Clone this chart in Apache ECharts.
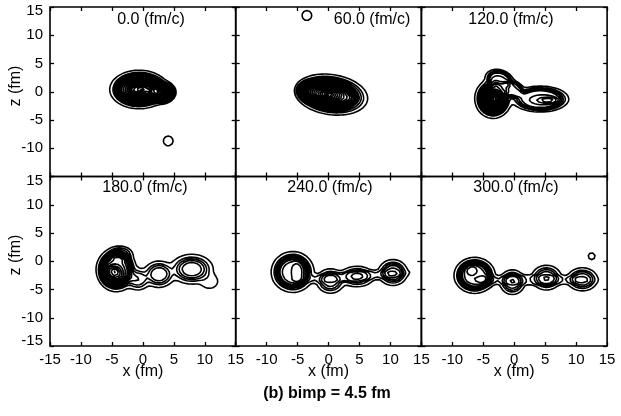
<!DOCTYPE html>
<html>
<head>
<meta charset="utf-8">
<script src="https://cdn.jsdelivr.net/npm/echarts@6/dist/echarts.min.js"></script>
<style>
  html, body { margin: 0; padding: 0; background: #fff; }
  #main { width: 621px; height: 416px; }
</style>
</head>
<body>
<div id="main"></div>
<script>
// --- data -------------------------------------------------------------
const panelTitles = ["0.0 (fm/c)", "60.0 (fm/c)", "120.0 (fm/c)", "180.0 (fm/c)", "240.0 (fm/c)", "300.0 (fm/c)"];
const axisTicks = [-15, -10, -5, 0, 5, 10, 15];
const contourLevels = [0.05, 0.15, 0.25, 0.35, 0.45, 0.55, 0.65, 0.75, 0.85, 0.95,
  1.05, 1.15, 1.25, 1.35, 1.45, 1.55, 1.65, 1.75, 1.85, 1.95, 2.05, 2.15];

// density blobs: [x, z, amplitude, rx, rz, diffuseness, angle]
// diffuseness 0 marks a cone-shaped core instead of a soft-edged blob
const blobs0 = [
  [-0.6, 0.4, 0.5, 3.9, 2.8, 0.1, 0],
  [3.0, -0.1, 0.45, 1.95, 1.7, 0.1, 0],
  [-0.3, 0.4, 1.3, 4.4, 2.9, 0, 0],
  [3.0, -0.1, 0.8, 2.2, 1.8, 0, 0],
  [-1.6, 0.3, 0.12, 0.6, 0.5, 0.3, 0],
  [2.7, 0.2, 0.15, 0.7, 0.5, 0.3, 0],
  [4.1, -8.7, 0.08, 0.85, 0.95, 0.15, 0]
];
const blobs60 = [
  [0.4, -0.5, 0.5, 4.9, 2.9, 0.1, -10],
  [-0.3, -0.4, 1.6, 5.2, 2.9, 0, -10],
  [3.7, -1.2, 0.15, 0.9, 0.6, 0.3, 0],
  [-3.5, 13.5, 0.08, 0.85, 0.95, 0.15, 0]
];
const blobs120 = [
  [-3.4, -1.2, 0.7, 2.2, 2.6, 0.14, 0],
  [-3.3, -1.3, 0.8, 2.4, 2.8, 0, 0],
  [-2.4, 2.2, 0.45, 1.8, 1.3, 0.14, -20],
  [-0.3, 0.4, 0.45, 1.6, 1.2, 0.14, -30],
  [4.2, -1.3, 0.55, 3.6, 1.8, 0.12, 0],
  [-3.3, -1.3, 0.2, 0.9, 0.8, 0.3, 0],
  [5.4, -1.5, 0.25, 1.6, 0.5, 0.25, 0]
];
const blobs180 = [
  [-4.3, -1.5, 0.65, 2.5, 3.0, 0.12, 0],
  [-4.5, -1.8, 0.5, 2.6, 3.0, 0, -20],
  [-3.6, 1.2, 0.2, 1.6, 1.2, 0.15, 0],
  [-4.6, -2.1, 0.25, 1.4, 0.9, 0.3, -30],
  [-0.8, -3.2, 0.35, 1.3, 1.3, 0.25, 0],
  [2.6, -2.3, 0.45, 1.7, 1.6, 0.22, 0],
  [7.9, -1.4, 0.55, 2.3, 1.75, 0.22, 0],
  [10.8, -3.6, 0.08, 1.4, 1.3, 0.2, 0]
];
const blobs240 = [
  [-5.8, -1.9, 0.72, 2.5, 2.6, 0.15, 0],
  [-5.0, -1.9, 0.12, 0.8, 1.9, 0.25, 0],
  [0.3, -3.5, 0.42, 1.55, 1.5, 0.22, 0],
  [4.6, -2.7, 0.36, 1.95, 1.3, 0.22, 0],
  [10.4, -2.0, 0.5, 1.6, 1.55, 0.22, 0],
  [3.5, -2.7, 0.12, 8.5, 0.8, 0.12, 4]
];
const blobs300 = [
  [-6.4, -2.5, 0.72, 2.4, 2.3, 0.15, 0],
  [-7.0, -1.4, 0.12, 0.9, 0.9, 0.25, 0],
  [-4.5, -3.4, 0.12, 1.2, 0.9, 0.2, 0],
  [-0.3, -3.7, 0.45, 1.4, 1.5, 0.22, 0],
  [5.2, -2.9, 0.45, 1.65, 1.5, 0.22, 0],
  [11.0, -3.2, 0.45, 1.7, 1.4, 0.22, 0],
  [3.0, -3.3, 0.12, 8.5, 0.8, 0.12, 0],
  [12.5, 0.9, 0.08, 0.6, 0.65, 0.15, 0]
];
const panelBlobs = [blobs0, blobs60, blobs120, blobs180, blobs240, blobs300];

// --- contour extraction ------------------------------------------------
const step = 0.1;
const n = Math.round(30 / step) + 1;
const coord = [];
for (let i = 0; i < n; i++) coord.push(-15 + i * step);

function buildField(blobs) {
  const prepared = blobs.map(b => {
    const a = b[6] * Math.PI / 180;
    return { x: b[0], z: b[1], amp: b[2], rx: b[3], rz: b[4], d: b[5], c: Math.cos(a), s: Math.sin(a) };
  });
  const f = new Float64Array(n * n);
  for (let j = 0; j < n; j++) {
    for (let i = 0; i < n; i++) {
      let sum = 0;
      for (const b of prepared) {
        const dx = coord[i] - b.x, dz = coord[j] - b.z;
        const u = dx * b.c + dz * b.s, v = -dx * b.s + dz * b.c;
        const r = Math.sqrt((u / b.rx) ** 2 + (v / b.rz) ** 2);
        if (b.d === 0) sum += r < 1 ? b.amp * (1 - r) : 0;
        else sum += b.amp / (1 + Math.exp((r - 1) / b.d));
      }
      f[j * n + i] = sum;
    }
  }
  return f;
}

const SEGS = {
  1: [[3, 0]], 2: [[0, 1]], 3: [[3, 1]], 4: [[1, 2]], 6: [[0, 2]], 7: [[3, 2]],
  8: [[2, 3]], 9: [[0, 2]], 11: [[1, 2]], 12: [[3, 1]], 13: [[0, 1]], 14: [[3, 0]]
};

function traceLevel(f, level) {
  const pos = new Map();
  const adj = new Map();
  const link = (a, b) => {
    if (!adj.has(a)) adj.set(a, []);
    if (!adj.has(b)) adj.set(b, []);
    adj.get(a).push(b);
    adj.get(b).push(a);
  };
  const edgePt = (id, i0, j0, i1, j1) => {
    if (pos.has(id)) return;
    const va = f[j0 * n + i0], vb = f[j1 * n + i1];
    const t = (level - va) / (vb - va);
    pos.set(id, [coord[i0] + t * (coord[i1] - coord[i0]), coord[j0] + t * (coord[j1] - coord[j0])]);
  };
  for (let j = 0; j < n - 1; j++) {
    for (let i = 0; i < n - 1; i++) {
      const v0 = f[j * n + i], v1 = f[j * n + i + 1], v2 = f[(j + 1) * n + i + 1], v3 = f[(j + 1) * n + i];
      const code = (v0 > level ? 1 : 0) | (v1 > level ? 2 : 0) | (v2 > level ? 4 : 0) | (v3 > level ? 8 : 0);
      if (code === 0 || code === 15) continue;
      const ids = [2 * (j * n + i), 2 * (j * n + i + 1) + 1, 2 * ((j + 1) * n + i), 2 * (j * n + i) + 1];
      const ends = [[i, j, i + 1, j], [i + 1, j, i + 1, j + 1], [i, j + 1, i + 1, j + 1], [i, j, i, j + 1]];
      let segs = SEGS[code];
      if (code === 5 || code === 10) {
        const centre = (v0 + v1 + v2 + v3) / 4 > level;
        const a = [[0, 1], [2, 3]], b = [[3, 0], [1, 2]];
        segs = code === 5 ? (centre ? a : b) : (centre ? b : a);
      }
      for (const [p, q] of segs) {
        edgePt(ids[p], ...ends[p]);
        edgePt(ids[q], ...ends[q]);
        link(ids[p], ids[q]);
      }
    }
  }
  const paths = [];
  const seen = new Set();
  for (const start of adj.keys()) {
    if (seen.has(start)) continue;
    const path = [pos.get(start)];
    seen.add(start);
    let prev = -1, cur = start;
    for (;;) {
      let next = -1;
      for (const k of adj.get(cur)) if (k !== prev && !seen.has(k)) { next = k; break; }
      if (next < 0) break;
      seen.add(next);
      path.push(pos.get(next));
      prev = cur;
      cur = next;
    }
    if (adj.get(cur).includes(start)) path.push(pos.get(start));
    paths.push(path);
  }
  return paths;
}

function contourData(blobs) {
  const f = buildField(blobs);
  const data = [];
  for (const lv of contourLevels) {
    for (const path of traceLevel(f, lv)) {
      for (const p of path) data.push(p);
      data.push(['-', '-']);
    }
  }
  return data;
}

// --- chart ------------------------------------------------------------
const FONT = "'Liberation Sans', Arial, Helvetica, sans-serif";
const chart = echarts.init(document.getElementById('main'), null, { renderer: 'canvas' });

const panelW = 185.7, panelH = 169.5, originX = 50, originY = 7;
const grids = [], xAxes = [], yAxes = [], series = [], texts = [];

for (let p = 0; p < 6; p++) {
  const c = p % 3, r = Math.floor(p / 3);
  const left = originX + c * panelW, top = originY + r * panelH;
  grids.push({
    left: left, top: top, width: panelW, height: panelH,
    show: true, borderColor: '#000', borderWidth: 1.6, backgroundColor: 'transparent'
  });
  const tick = { show: true, inside: true, length: 4, lineStyle: { color: '#000', width: 1.3 } };
  const base = {
    gridIndex: p, type: 'value', min: -15, max: 15, interval: 5,
    axisLine: { show: false, onZero: false }, axisTick: tick, splitLine: { show: false }
  };
  xAxes.push(Object.assign({}, base, {
    position: 'bottom',
    axisLabel: {
      show: r === 1, margin: 6, color: '#000', fontFamily: FONT, fontSize: 15,
      formatter: v => (c > 0 && v === -15) ? '' : String(v)
    }
  }));
  xAxes.push(Object.assign({}, base, { position: 'top', axisLabel: { show: false } }));
  yAxes.push(Object.assign({}, base, {
    position: 'left',
    axisLabel: {
      show: c === 0, margin: 7, color: '#000', fontFamily: FONT, fontSize: 15,
      formatter: v => {
        if (v === 15) return '{t|15}';
        if (v === -15) return r === 0 ? '' : '{b|-15}';
        return String(v);
      },
      rich: {
        t: { padding: [8, 0, 0, 0], color: '#000', fontFamily: FONT, fontSize: 15 },
        b: { padding: [0, 0, 10, 0], color: '#000', fontFamily: FONT, fontSize: 15 }
      }
    }
  }));
  yAxes.push(Object.assign({}, base, { position: 'right', axisLabel: { show: false } }));

  series.push({
    type: 'line', xAxisIndex: 2 * p, yAxisIndex: 2 * p,
    data: contourData(panelBlobs[p]),
    showSymbol: false, symbol: 'none', connectNulls: false, silent: true,
    animation: false, clip: true,
    lineStyle: { color: '#000', width: 1.6, cap: 'round', join: 'round' },
    emphasis: { disabled: true }
  });
}

const titlePos = [[151, 20], [372, 20], [511, 20], [145, 188], [330, 188], [516, 188]];
const txt = (s, x, y, size, weight, rot) => ({
  type: 'text', x: x, y: y, rotation: rot || 0, silent: true,
  style: {
    text: s, x: 0, y: 0, fill: '#000', font: (weight || 'normal') + ' ' + size + 'px ' + FONT,
    align: 'center', verticalAlign: 'middle', textAlign: 'center', textVerticalAlign: 'middle'
  }
});
panelTitles.forEach((t, i) => texts.push(txt(t, titlePos[i][0], titlePos[i][1], 16)));
for (let c = 0; c < 3; c++) texts.push(txt('x (fm)', originX + (c + 0.5) * panelW, 372, 16));
texts.push(txt('z (fm)', 15.5, 86, 16, 'normal', Math.PI / 2));
texts.push(txt('z (fm)', 15.5, 255, 16, 'normal', Math.PI / 2));
texts.push(txt('(b) bimp = 4.5 fm', 327, 394, 16, 'bold'));

chart.setOption({
  animation: false,
  backgroundColor: '#fff',
  grid: grids,
  xAxis: xAxes,
  yAxis: yAxes,
  series: series,
  graphic: { elements: texts }
});
</script>
</body>
</html>
